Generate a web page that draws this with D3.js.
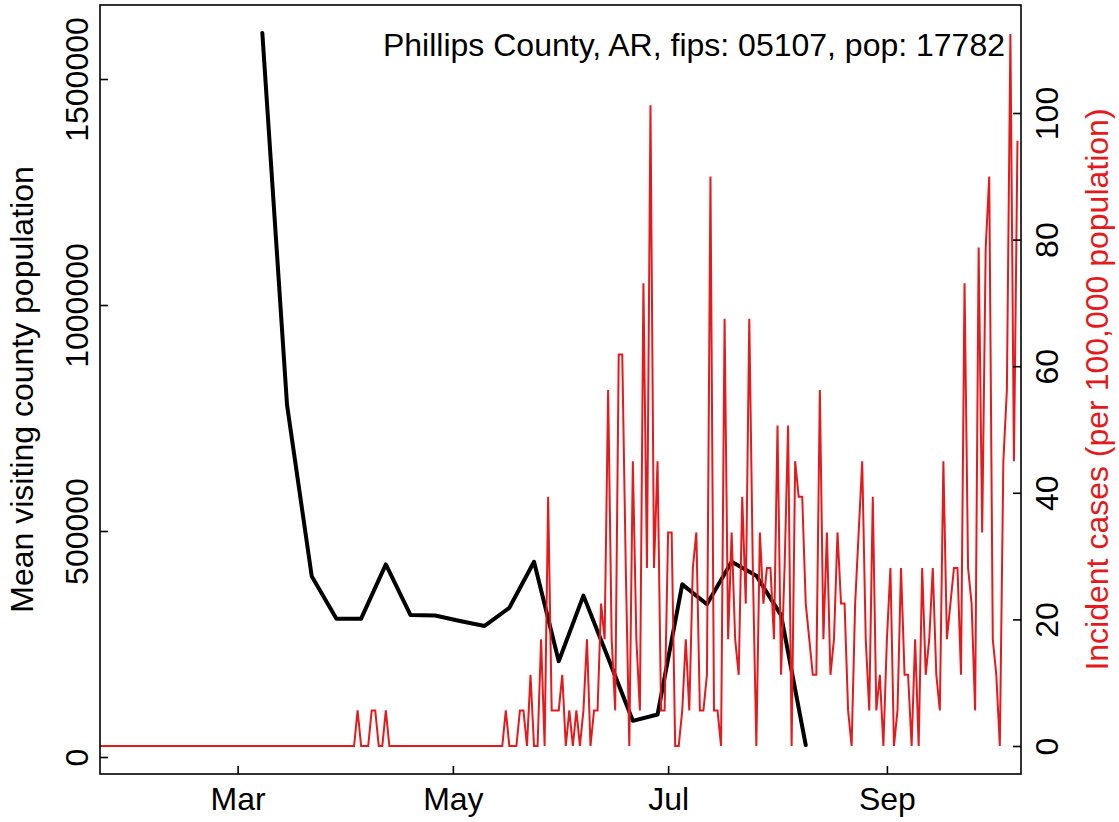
<!DOCTYPE html>
<html><head><meta charset="utf-8">
<script src="https://cdn.jsdelivr.net/npm/d3@7"></script>
<style>body{margin:0;background:#fff}svg{display:block}</style>
</head><body>
<svg id="c" width="1119" height="822"></svg>
<script>
// ---- data ----
const title = "Phillips County, AR, fips: 05107, pop: 17782";
const population = 17782;
const caseStart = "2020-01-22";   // first day of daily case series
const dailyCases = [
  // Jan 22-31
  0,0,0,0,0,0,0,0,0,0,
  // Feb
  0,0,0,0,0,0,0,0,0,0,0,0,0,0,0,0,0,0,0,0,0,0,0,0,0,0,0,0,0,
  // Mar
  0,0,0,0,0,0,0,0,0,0,0,0,0,0,0,0,0,0,0,0,0,0,0,0,0,0,0,0,0,0,0,
  // Apr
  0,0,0,1,0,0,0,1,1,0,0,1,0,0,0,0,0,0,0,0,0,0,0,0,0,0,0,0,0,0,
  // May
  0,0,0,0,0,0,0,0,0,0,0,0,0,0,0,1,0,0,0,1,1,0,2,0,0,3,0,7,1,1,1,
  // Jun
  2,0,1,0,1,0,1,3,0,1,1,4,3,10,3,1,11,11,5,0,8,3,1,13,5,18,5,8,1,1,
  // Jul
  6,6,0,0,1,3,1,5,6,1,1,2,16,1,1,0,12,3,6,3,2,7,4,12,5,0,6,4,5,5,3,
  // Aug
  9,2,5,9,0,8,7,7,4,3,2,2,10,3,6,2,3,6,4,4,1,0,4,6,8,3,1,7,1,2,0,
  // Sep
  3,5,0,1,5,2,2,0,3,0,5,2,3,5,2,1,8,3,4,5,5,2,13,5,4,1,14,6,14,16,
  // Oct 1-8
  3,2,0,8,10,20,8,17
];
const mobilityDates = ["2020-03-08","2020-03-15","2020-03-22","2020-03-29","2020-04-05","2020-04-12",
  "2020-04-19","2020-04-26","2020-05-03","2020-05-10","2020-05-17","2020-05-24","2020-05-31",
  "2020-06-07","2020-06-14","2020-06-21","2020-06-28","2020-07-05","2020-07-12","2020-07-19",
  "2020-07-26","2020-08-02","2020-08-09"];
const mobilityValues = [1602000,779000,400000,306000,306000,426000,314000,313000,301000,290000,
  330000,432000,212000,357000,219000,80000,94000,382000,338000,432000,401000,314000,26500];
const leftTicks = [0,500000,1000000,1500000];
const rightTicks = [0,20,40,60,80,100];
const monthTicks = ["2020-03-01","2020-05-01","2020-07-01","2020-09-01"];
const monthLabels = ["Mar","May","Jul","Sep"];
const leftLabel = "Mean visiting county population";
const rightLabel = "Incident cases (per 100,000 population)";

// ---- layout ----
const L=100, R=1021, T=5, B=774;
const FONT = "'Liberation Sans', Arial, Helvetica, sans-serif";
const FS = 32;
const RED = "#e41a1c";

const svg = d3.select("#c");
const parse = d3.utcParse("%Y-%m-%d");
const t0 = parse(caseStart);
const caseDates = dailyCases.map((_,i)=>d3.utcDay.offset(t0,i));
const caseRate = dailyCases.map(c=>c*1e5/population);

const x = d3.scaleUtc().domain([t0, d3.utcDay.offset(t0, dailyCases.length)]).range([L,R]);
const yL = d3.scaleLinear().domain([0,1500000]).range([757,79]);
const yR = d3.scaleLinear().domain([0,100]).range([746,113]);

svg.append("defs").append("clipPath").attr("id","clip")
  .append("rect").attr("x",L).attr("y",T).attr("width",R-L).attr("height",B-T);

const plot = svg.append("g").attr("clip-path","url(#clip)");

// black mobility line
const mob = mobilityDates.map((d,i)=>({d:parse(d), v:mobilityValues[i]}));
plot.append("path").datum(mob)
  .attr("fill","none").attr("stroke","#000").attr("stroke-width",4)
  .attr("stroke-linejoin","round").attr("stroke-linecap","round")
  .attr("d", d3.line().x(p=>x(p.d)).y(p=>yL(p.v)));

// red incidence line
const cs = caseDates.map((d,i)=>({d, v:caseRate[i]}));
plot.append("path").datum(cs)
  .attr("fill","none").attr("stroke",RED).attr("stroke-width",2)
  .attr("stroke-linejoin","miter")
  .attr("d", d3.line().x(p=>x(p.d)).y(p=>yR(p.v)));

// box
svg.append("rect").attr("x",L).attr("y",T).attr("width",R-L).attr("height",B-T)
  .attr("fill","none").attr("stroke","#000").attr("stroke-width",1.6);

// left axis
const gL = svg.append("g").attr("transform",`translate(${L},0)`)
  .call(d3.axisLeft(yL).tickValues(leftTicks).tickSize(-8).tickSizeOuter(0).tickFormat(d3.format("d")));
gL.select(".domain").remove();
gL.selectAll(".tick line").attr("stroke","#000").attr("stroke-width",1.6);
gL.selectAll(".tick text").attr("x",null).attr("dy",null)
  .attr("transform","translate(-12,0) rotate(-90)").attr("text-anchor","middle")
  .attr("fill","#000").style("font-family",FONT).style("font-size",FS+"px");

// right axis
const gR = svg.append("g").attr("transform",`translate(${R},0)`)
  .call(d3.axisRight(yR).tickValues(rightTicks).tickSize(-8).tickSizeOuter(0).tickFormat(d3.format("d")));
gR.select(".domain").remove();
gR.selectAll(".tick line").attr("stroke","#000").attr("stroke-width",1.6);
gR.selectAll(".tick text").attr("x",null).attr("dy",null)
  .attr("transform","translate(37,0) rotate(-90)").attr("text-anchor","middle")
  .attr("fill","#000").style("font-family",FONT).style("font-size",FS+"px");

// bottom axis
const gB = svg.append("g").attr("transform",`translate(0,${B})`)
  .call(d3.axisBottom(x).tickValues(monthTicks.map(parse)).tickSize(-8).tickSizeOuter(0)
    .tickFormat((d,i)=>monthLabels[i]));
gB.select(".domain").remove();
gB.selectAll(".tick line").attr("stroke","#000").attr("stroke-width",1.6);
gB.selectAll(".tick text").attr("y",36).attr("dy",null).attr("text-anchor","middle")
  .attr("fill","#000").style("font-family",FONT).style("font-size",FS+"px");

// axis titles
svg.append("text").attr("transform",`translate(33,${(T+B)/2}) rotate(-90)`)
  .attr("text-anchor","middle").style("font-family",FONT).style("font-size",FS+"px")
  .attr("fill","#000").text(leftLabel);
svg.append("text").attr("transform",`translate(1108,${(T+B)/2}) rotate(-90)`)
  .attr("text-anchor","middle").style("font-family",FONT).style("font-size",FS+"px")
  .attr("fill",RED).text(rightLabel);

// title inside plot
svg.append("text").attr("x",1005).attr("y",55.5).attr("text-anchor","end")
  .style("font-family",FONT).style("font-size",FS+"px").attr("fill","#000").text(title);
</script>
</body></html>
